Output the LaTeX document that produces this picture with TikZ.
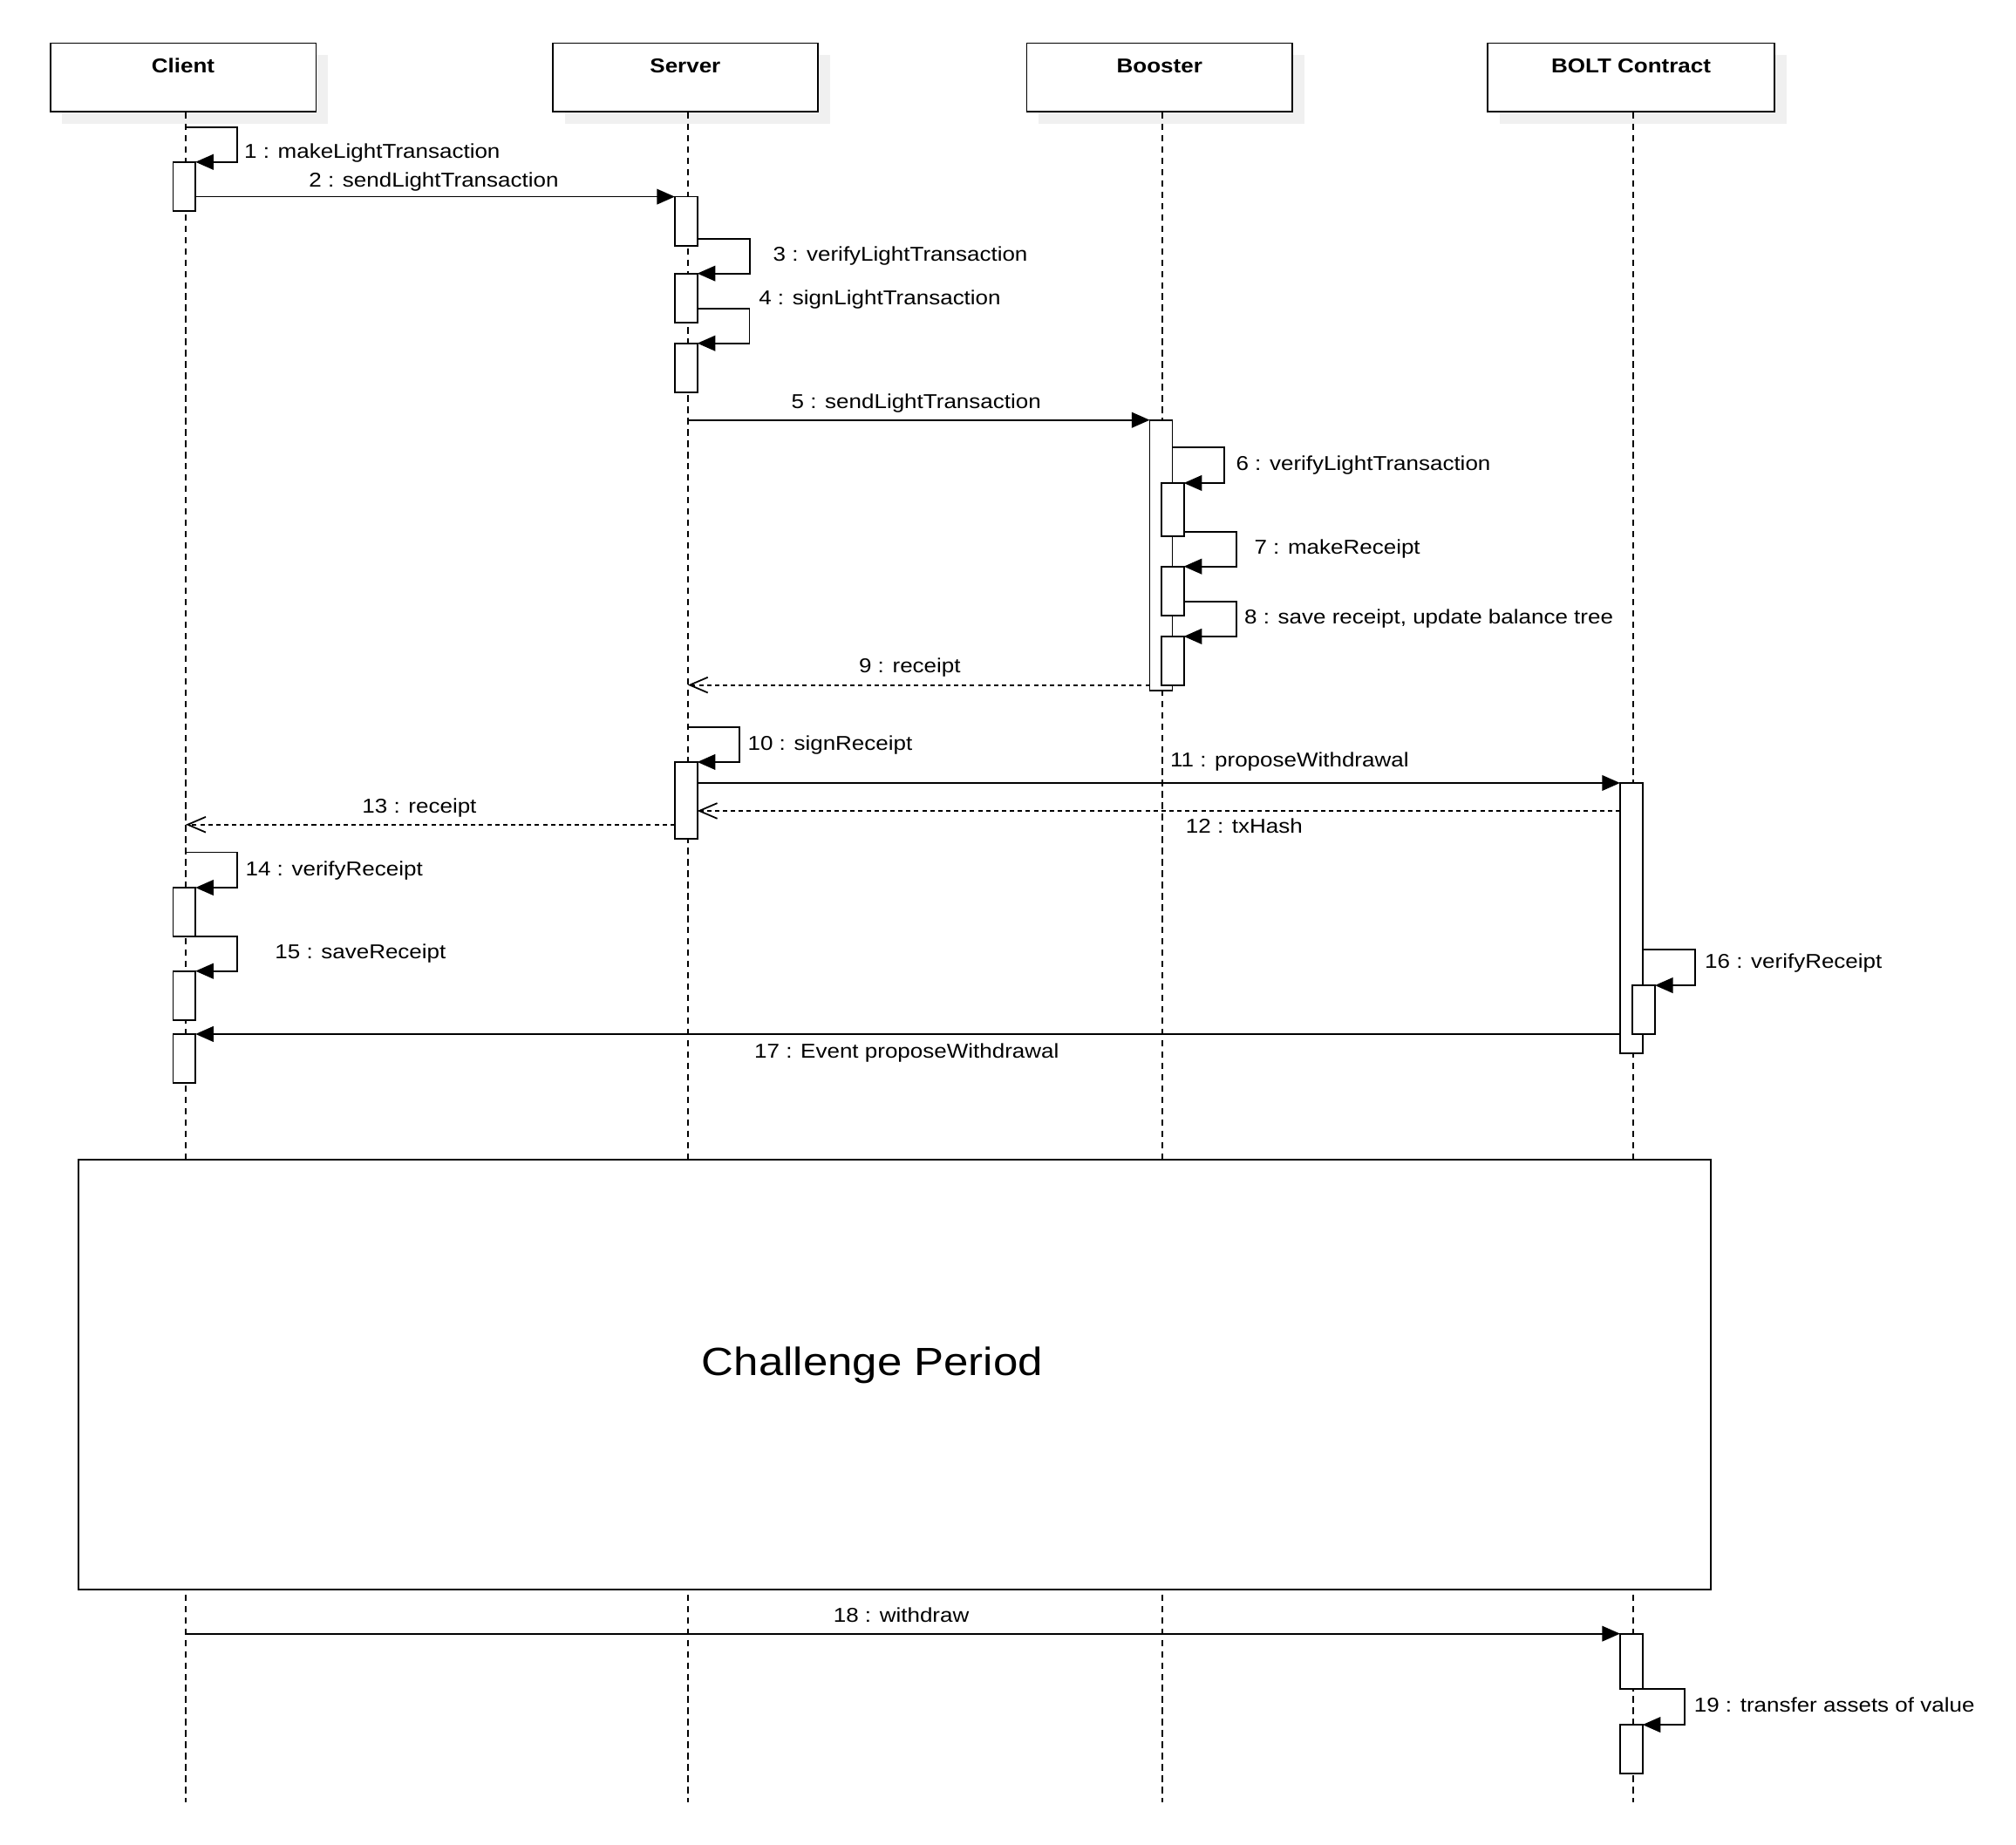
\documentclass[tikz,border=0pt]{standalone}
\usepackage{fontspec}
\setmainfont[FakeStretch=1.13]{Liberation Sans}
\usetikzlibrary{arrows.meta,shadows}
\definecolor{shadowgray}{RGB}{240,240,240}

\begin{document}
\begin{tikzpicture}[x=0.5pt,y=-0.5pt,line width=0.6pt,
  font=\fontsize{7.8pt}{9pt}\selectfont,
  header/.style={draw,fill=white,inner sep=0,minimum height=26.65pt,
    drop shadow={shadow xshift=4.65pt,shadow yshift=-4.65pt,fill=shadowgray,opacity=1}},
  hdrtitle/.style={anchor=base,inner sep=0,yshift=-11.8pt,
    font=\fontsize{7.8pt}{9pt}\selectfont\bfseries},
  lifeline/.style={dash pattern=on 2.5pt off 1.9pt},
  act/.style={draw,fill=white,inner sep=0,outer sep=0,minimum width=8.75pt,anchor=north},
  msg/.style={-{Triangle[length=7pt,width=6pt]}},
  ret/.style={dash pattern=on 1.7pt off 1.4pt,-{Straight Barb[length=7pt,width=6pt]}},
  mlabel/.style={inner sep=0,anchor=base west},
  clabel/.style={inner sep=0,anchor=base},
]
\useasboundingbox (0,0) rectangle (1568,1435);

% participants
\node[header,minimum width=103.35pt,label={[hdrtitle]north:Client}] (client) at (142.45,60.15) {};
\node[header,minimum width=103.1pt,label={[hdrtitle]north:Server}] (server) at (533,60.15) {};
\node[header,minimum width=103.35pt,label={[hdrtitle]north:Booster}] (booster) at (901.85,60.15) {};
\node[header,minimum width=111.6pt,label={[hdrtitle]north:BOLT Contract}] (bolt) at (1268.6,60.15) {};

% lifelines
\coordinate (clientEnd) at (144.5,1401.6);
\coordinate (serverEnd) at (535,1401.6);
\coordinate (boosterEnd) at (904,1401.6);
\coordinate (boltEnd) at (1270.2,1401.6);
\draw[lifeline] (clientEnd |- client.south) -- (clientEnd);
\draw[lifeline] (serverEnd |- server.south) -- (serverEnd);
\draw[lifeline] (boosterEnd |- booster.south) -- (boosterEnd);
\draw[lifeline] (boltEnd |- bolt.south) -- (boltEnd);

% challenge period frame
\node[draw,fill=white,inner sep=0,minimum width=634.95pt,minimum height=167.35pt] (challenge) at (695.85,1069.25) {};
\node[clabel,font=\fontsize{15.3pt}{18pt}\selectfont] (challengeText) at (678.5,1070) {Challenge Period};

% activation bars: client
\node[act,minimum height=18.95pt] (cA1) at (143.3,126) {};
\node[act,minimum height=18.9pt] (cA2) at (143.3,690.4) {};
\node[act,minimum height=19.1pt] (cA3) at (143.3,755.3) {};
\node[act,minimum height=19pt] (cA4) at (143.3,804.3) {};
% server
\node[act,minimum height=19pt] (sA1) at (533.6,153) {};
\node[act,minimum height=19pt] (sA2) at (533.6,212.7) {};
\node[act,minimum height=19pt] (sA3) at (533.6,267) {};
\node[act,minimum height=29.85pt] (sA4) at (533.6,592.7) {};
% booster
\node[act,minimum height=105.1pt] (bA0) at (903,326.7) {};
\node[act,minimum height=20.8pt] (bA1) at (912,375.7) {};
\node[act,minimum height=19pt] (bA2) at (912,440.6) {};
\node[act,minimum height=18.9pt] (bA3) at (912,495) {};
% contract
\node[act,minimum height=105pt] (kA0) at (1268.8,609) {};
\node[act,minimum height=18.95pt] (kA1) at (1278.4,766.4) {};
\node[act,minimum height=21.6pt] (kA2) at (1268.8,1270.7) {};
\node[act,minimum height=18.95pt] (kA3) at (1268.8,1341.5) {};

% messages
\coordinate (m1) at (144.5,99);
\draw[msg] (m1) -- ++(40,0) |- (cA1.north east);
\draw[msg] (cA1.east |- sA1.north west) -- (sA1.north west);
\draw[msg] ([yshift=2.7pt]sA1.south east) -- ++(41,0) |- (sA2.north east);
\draw[msg] ([yshift=5.4pt]sA2.south east) -- ++(40.6,0) |- (sA3.north east);
\draw[msg] (serverEnd |- bA0.north west) -- (bA0.north west);
\draw[msg] ([yshift=-10.7pt]bA0.north east) -- ++(40.3,0) |- (bA1.north east);
\draw[msg] ([yshift=1.9pt]bA1.south east) -- ++(40.7,0) |- (bA2.north east);
\draw[msg] ([yshift=5.45pt]bA2.south east) -- ++(40.7,0) |- (bA3.north east);
\draw[ret] (bA0.west |- bA3.south) -- (serverEnd |- bA3.south);
\coordinate (m10) at (535,565.6);
\draw[msg] (m10) -- ++(39.9,0) |- (sA4.north east);
\draw[msg] (sA4.east |- kA0.north west) -- (kA0.north west);
\coordinate (y12) at (0,630.7);
\draw[ret] (kA0.west |- y12) -- (sA4.east |- y12);
\coordinate (y13) at (0,641.4);
\draw[ret] (sA4.west |- y13) -- (clientEnd |- y13);
\coordinate (m14) at (144.5,663);
\draw[msg] (m14) -- ++(39.8,0) |- (cA2.north east);
\draw[msg] (cA2.south east) -- ++(32.4,0) |- (cA3.north east);
\draw[msg] ([yshift=-64.9pt]kA0.north east) -- ++(40.8,0) |- (kA1.north east);
\draw[msg] (kA0.west |- cA4.north east) -- (cA4.north east);
\draw[msg] (clientEnd |- kA2.north west) -- (kA2.north west);
\draw[msg] (kA2.south east) -- ++(32.8,0) |- (kA3.north east);

% message labels
\node[mlabel] (l1) at (189.4,123.1) {1 : makeLightTransaction};
\node[clabel] (l2) at (337.4,145.3) {2 : sendLightTransaction};
\node[mlabel] (l3) at (600.7,203.4) {3 : verifyLightTransaction};
\node[mlabel] (l4) at (589.6,237.3) {4 : signLightTransaction};
\node[clabel] (l5) at (712.6,317.6) {5 : sendLightTransaction};
\node[mlabel] (l6) at (960.8,366.2) {6 : verifyLightTransaction};
\node[mlabel] (l7) at (975,431) {7 : makeReceipt};
\node[mlabel] (l8) at (967.3,485.3) {8 : save receipt, update balance tree};
\node[clabel] (l9) at (707.6,523.3) {9 : receipt};
\node[mlabel] (l10) at (581,583.6) {10 : signReceipt};
\node[mlabel] (l11) at (909.6,596.8) {11 : proposeWithdrawal};
\node[mlabel] (l12) at (921.7,648.1) {12 : txHash};
\node[clabel] (l13) at (326.2,632.3) {13 : receipt};
\node[mlabel] (l14) at (190.4,681.1) {14 : verifyReceipt};
\node[mlabel] (l15) at (213.3,746) {15 : saveReceipt};
\node[mlabel] (l16) at (1325.4,752.8) {16 : verifyReceipt};
\node[mlabel] (l17) at (586.2,822.8) {17 : Event proposeWithdrawal};
\node[clabel] (l18) at (701,1261.6) {18 : withdraw};
\node[mlabel] (l19) at (1317,1331.5) {19 : transfer assets of value};
\end{tikzpicture}
\end{document}
